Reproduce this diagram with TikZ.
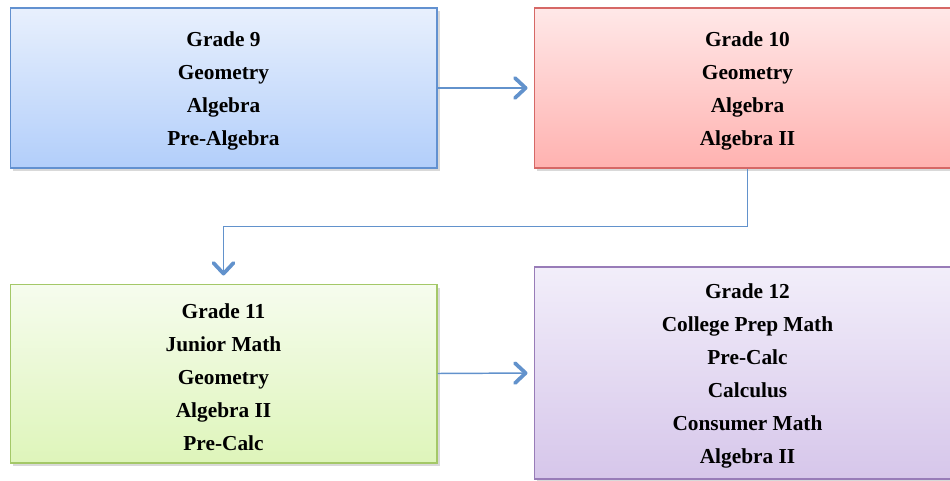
\documentclass[tikz,border=0pt]{standalone}
\usepackage{fontspec}
\setmainfont{Liberation Serif}
\usetikzlibrary{arrows.meta,shadows}

\definecolor{linkblue}{RGB}{98,146,204}
\definecolor{blueedge}{RGB}{98,145,208}
\definecolor{bluetop}{RGB}{232,240,253}
\definecolor{bluebot}{RGB}{178,206,250}
\definecolor{rededge}{RGB}{214,104,102}
\definecolor{redtop}{RGB}{255,232,232}
\definecolor{redbot}{RGB}{255,178,176}
\definecolor{greenedge}{RGB}{164,200,104}
\definecolor{greentop}{RGB}{246,252,238}
\definecolor{greenbot}{RGB}{222,245,186}
\definecolor{purpleedge}{RGB}{152,124,184}
\definecolor{purpletop}{RGB}{242,238,250}
\definecolor{purplebot}{RGB}{214,198,234}

% first line of a box, with a little extra room above it
\newcommand{\gradehead}[1]{\rule{0pt}{16pt}#1}

\begin{document}
\begin{tikzpicture}[
    x=0.75pt, y=-0.75pt,
    grade/.style={draw, line width=1pt, rectangle, align=center,
        minimum width=320pt, inner sep=0pt,
        font=\fontsize{16}{24.75}\selectfont\bfseries,
        drop shadow={shadow xshift=2pt, shadow yshift=-2.5pt, opacity=0.3}},
    link/.style={draw=linkblue, line width=1.1pt,
        -{Straight Barb[length=8pt, width=15pt, line width=2.8pt, round]}}]

\useasboundingbox (0,0) rectangle (950,481);
\clip (0,0) rectangle (950,481);

\node[grade, minimum height=120pt, draw=blueedge, top color=bluetop, bottom color=bluebot]
    (g9) at (223.5,88) {\gradehead{Grade 9}\\Geometry\\Algebra\\Pre-Algebra};
\node[grade, minimum height=120pt, draw=rededge, top color=redtop, bottom color=redbot]
    (g10) at (747.5,88) {\gradehead{Grade 10}\\Geometry\\Algebra\\Algebra II};
\node[grade, minimum height=134pt, draw=greenedge, top color=greentop, bottom color=greenbot]
    (g11) at (223.5,373.5) {\gradehead{Grade 11}\\Junior Math\\Geometry\\Algebra II\\Pre-Calc};
\node[grade, minimum height=159pt, draw=purpleedge, top color=purpletop, bottom color=purplebot]
    (g12) at (747.5,373) {\gradehead{Grade 12}\\College Prep Math\\Pre-Calc\\Calculus\\Consumer Math\\Algebra II};

\draw[link, shorten >=4.5pt] (g9.east) -- (g10.west);
\draw[link, shorten >=6pt] (g10.south) -- ++(0,58) -| (g11.north);
\draw[link, shorten >=4.5pt] (g11.east) -- (g12.west);

\end{tikzpicture}
\end{document}
